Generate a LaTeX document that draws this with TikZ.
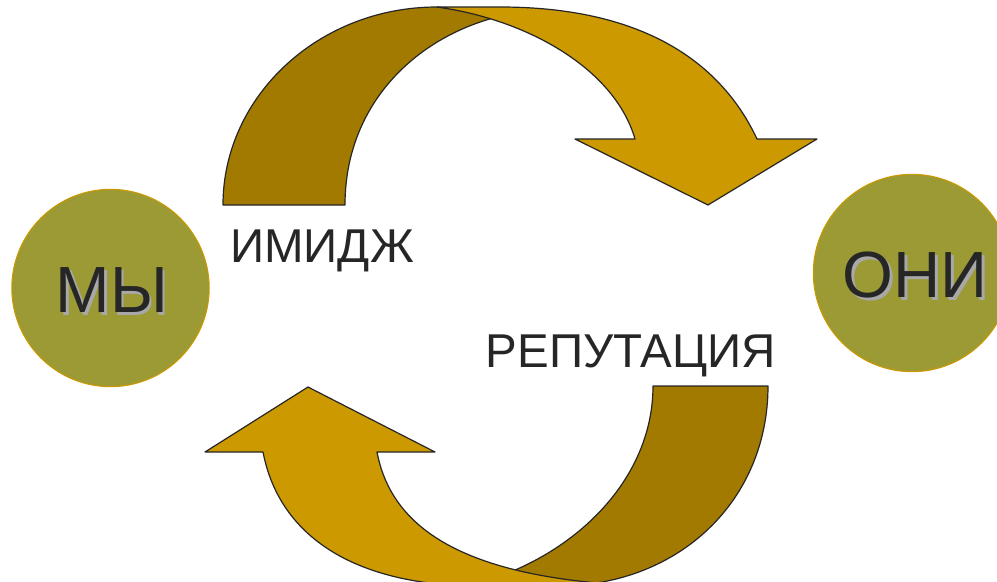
\documentclass[tikz,border=0pt]{standalone}
\usepackage{fontspec}
\setmainfont{Liberation Sans}
\definecolor{darkgold}{HTML}{A37A00}
\definecolor{lightgold}{HTML}{CC9900}
\definecolor{olive}{HTML}{9C9A34}
\definecolor{ink}{HTML}{262626}
\definecolor{shade}{HTML}{A8A8A8}
\tikzset{
  darkpart/.style={fill=darkgold, draw=ink, line width=0.9pt, line join=round},
  lightpart/.style={fill=lightgold, draw=ink, line width=0.9pt, line join=round},
  party/.style={circle, fill=olive, draw=lightgold, line width=0.8pt, minimum size=148pt, inner sep=0pt},
  bigtxt/.style={text=ink, font=\fontsize{49}{50}\selectfont, anchor=base, inner sep=0pt},
  bigshadow/.style={text=shade, font=\fontsize{49}{50}\selectfont, anchor=base, inner sep=0pt},
  midtxt/.style={text=ink, font=\fontsize{35.6}{37}\selectfont, anchor=base, inner sep=0pt}
}
\begin{document}
\begin{tikzpicture}[x=0.75pt, y=-0.75pt]
\clip (0,0) rectangle (997,582);
\fill[white] (0,0) rectangle (997,582);
% top arrow, back (dark) part
\draw[darkpart] (223,205) .. controls (223,96) and (319,7) .. (437,7)
  .. controls (460,9) and (480,13) .. (497,17)
  .. controls (415,38) and (345,105) .. (345,205) -- cycle;
% top arrow, front (light) part with head
\draw[lightpart] (437,7) -- (500,7) .. controls (640,7) and (720,60) .. (757,139)
  -- (817,139) -- (708,205) -- (575,139) -- (635,139)
  .. controls (615,70) and (530,20) .. (437,7) -- cycle;
% bottom arrow, back (dark) part
\draw[darkpart] (768,386) .. controls (768,500) and (680,585) .. (560,586)
  -- (470,586) -- (508,573)
  .. controls (590,540) and (653,470) .. (653,386) -- cycle;
% bottom arrow, front (light) part with head
\draw[lightpart] (377,452) -- (435,452) -- (308,387) -- (205,452) -- (263,452)
  .. controls (280,540) and (360,586) .. (480,586) -- (650,586)
  .. controls (450,580) and (390,520) .. (377,452) -- cycle;
% circles
\node[party] (we) at (110.5,288) {};
\node[party] (they) at (912,273) {};
% circle texts with shadow
\node[bigshadow] (weS) at (114.5,315) {МЫ};
\node[bigtxt] (weT) at (112,312) {МЫ};
\node[bigshadow] (theyS) at (918,300) {ОНИ};
\node[bigtxt] (theyT) at (915,297) {ОНИ};
% labels
\node[midtxt] (image) at (322,262) {ИМИДЖ};
\node[midtxt] (rep) at (631,367) {РЕПУТАЦИЯ};
\end{tikzpicture}
\end{document}
